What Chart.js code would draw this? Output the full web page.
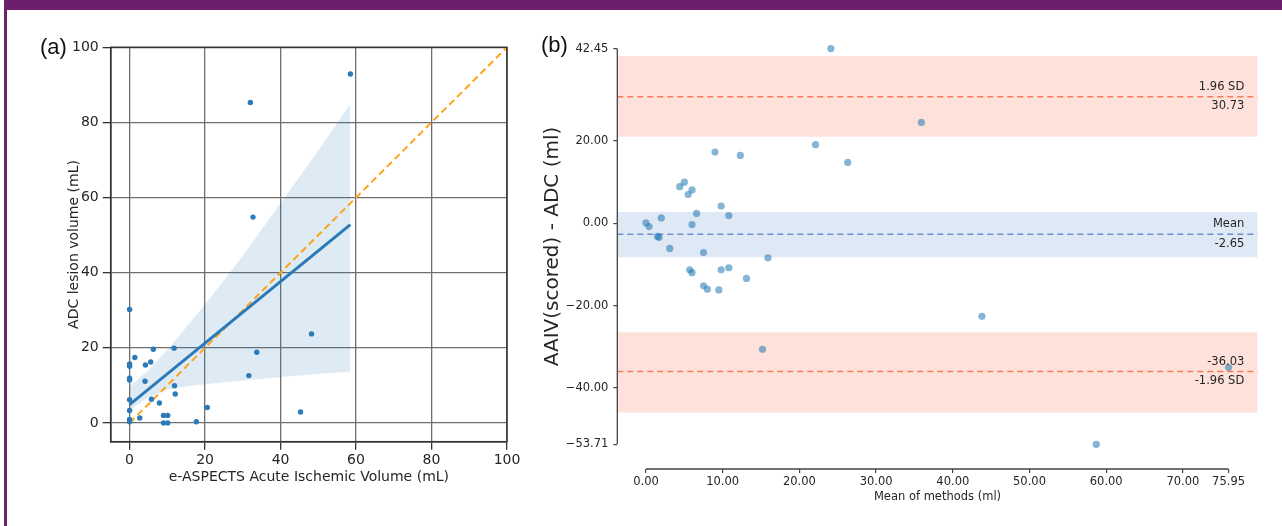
<!DOCTYPE html>
<html>
<head>
<meta charset="utf-8">
<script src="https://cdn.jsdelivr.net/npm/chart.js@4.4.1/dist/chart.umd.min.js"></script>
<style>
  body { margin: 0; background: #fff; width: 1282px; height: 526px; position: relative; overflow: hidden; }
  .frame-top { position: absolute; left: 4px; top: 0; width: 1278px; height: 10px; background: #6b1f6d; }
  .frame-left { position: absolute; left: 4px; top: 0; width: 3px; height: 526px; background: #6b1f6d; }
  canvas { position: absolute; top: 0; }
  #chartA { left: 0; }
  #chartB { left: 530px; }
  .panel-tag { position: absolute; font-family: "Liberation Sans", Arial, sans-serif; font-size: 22px; color: #111; }
</style>
</head>
<body>
<div class="frame-top"></div>
<div class="frame-left"></div>
<canvas id="chartA" width="530" height="526"></canvas>
<canvas id="chartB" width="752" height="526"></canvas>
<div class="panel-tag" style="left:40px; top:34px;">(a)</div>
<div class="panel-tag" style="left:541px; top:32px;">(b)</div>
<script>
"use strict";

// (a) ADC lesion volume vs e-ASPECTS volume
const volumeTicks = [0, 20, 40, 60, 80, 100];
const eAspectsVolume = [0, 0, 0, 0, 0, 0, 0, 0, 0, 1.4, 4.2, 5.6, 6.3, 11.8, 4.1, 11.9, 12.1, 5.8, 7.9, 2.7, 9.0, 10.1, 9.0, 10.1, 17.7, 20.6, 31.6, 33.7, 45.3, 48.2, 32.0, 32.7, 58.5];
const adcVolume = [30.2, 15.7, 15.1, 11.9, 11.4, 6.2, 3.3, 0.9, 0.3, 17.4, 15.4, 16.2, 19.6, 19.9, 11.1, 9.9, 7.7, 6.3, 5.3, 1.3, 2.0, 2.0, 0, 0, 0.3, 4.1, 12.6, 18.8, 2.9, 23.7, 85.3, 54.8, 92.9];
const fitX = [0, 58.5];
const fitY = [4.85, 52.8];
const ciX = [0, 5, 10, 15, 20, 25, 30, 40, 50, 58.5];
const ciUpper = [9.7, 14, 19.5, 25.5, 31.5, 38, 44.5, 58.5, 72.5, 85];
const ciLower = [3.5, 6.8, 8.8, 9.7, 10.3, 10.8, 11.3, 12.2, 13, 13.7];
const identityX = [0, 100];

// (b) Bland-Altman
const meanOfMethods = [0.0, 0.4, 1.5, 1.7, 2.0, 3.1, 4.4, 5.0, 5.5, 6.0, 6.0, 6.6, 5.7, 6.0, 7.5, 7.5, 8.0, 9.0, 9.5, 9.8, 9.8, 10.8, 10.8, 12.3, 13.1, 15.2, 15.9, 22.1, 24.1, 26.3, 35.9, 43.8, 58.7, 75.95];
const diffOfMethods = [0.1, -0.8, -3.2, -3.4, 1.3, -6.1, 8.9, 10.0, 7.0, 8.1, -0.3, 2.4, -11.3, -12.0, -7.1, -15.2, -16.0, 17.3, -16.2, 4.2, -11.3, 1.9, -10.8, 16.5, -13.4, -30.6, -8.4, 19.1, 42.45, 14.8, 24.5, -22.6, -53.71, -35.0];
const diffTicks = [42.45, 20, 0, -20, -40, -53.71];
const meanTicks = [0, 10, 20, 30, 40, 50, 60, 70, 75.95];
const limitValues = [30.73, -2.65, -36.03];
const limitAbove = ["1.96 SD", "Mean", "-36.03"];
const limitBelow = ["30.73", "-2.65", "-1.96 SD"];
const limitBandLow = [21.05, -8.26, -46.0];
const limitBandHigh = [40.65, 2.75, -26.5];
const limitLineColors = ["#f47c57", "#6f8fd0", "#f47c57"];
const limitBandColors = ["rgba(245,130,100,0.24)", "rgba(110,150,210,0.22)", "rgba(245,130,100,0.24)"];
const limitLabelX = 78;
const diffTitle = "AAIV(scored) - ADC (ml)";

const tickFont = "DejaVu Sans";
const textColor = "#262626";

function toPoints(xs, ys) {
  return xs.map((x, i) => ({ x: x, y: ys[i] }));
}

function fixedTicks(values) {
  return (scale) => {
    scale.ticks = values.map((v) => ({ value: v }));
  };
}

function minusLabel(v) {
  return v < 0 ? "\u2212" + Math.abs(v).toFixed(2) : v.toFixed(2);
}

const boxPlugin = {
  id: "box",
  afterDraw(chart) {
    const { ctx, chartArea } = chart;
    ctx.save();
    ctx.strokeStyle = "#333";
    ctx.lineWidth = 1.5;
    ctx.strokeRect(chartArea.left, chartArea.top, chartArea.right - chartArea.left, chartArea.bottom - chartArea.top);
    ctx.restore();
  },
};

function drawRegressionChart() {
  const ctx = document.getElementById("chartA");
  const axisCommon = {
    type: "linear",
    min: -5,
    max: 100,
    grid: { color: "#6f6f6f", lineWidth: 1.3, tickLength: 8, tickColor: "#333" },
    border: { color: "#333", width: 1.5 },
    ticks: { font: { family: tickFont, size: 14 }, color: textColor, maxRotation: 0, autoSkip: false },
  };
  new Chart(ctx, {
    type: "scatter",
    data: {
      datasets: [
        {
          data: toPoints(eAspectsVolume, adcVolume),
          backgroundColor: "#2b7bba",
          borderWidth: 0,
          pointRadius: 2.7,
        },
        {
          type: "line",
          data: toPoints(fitX, fitY),
          borderColor: "#2a7ab9",
          borderWidth: 3,
          pointRadius: 0,
        },
        {
          type: "line",
          data: toPoints(identityX, identityX),
          borderColor: "#ffa31a",
          borderWidth: 2,
          borderDash: [7, 4],
          pointRadius: 0,
        },
        {
          type: "line",
          data: toPoints(ciX, ciUpper),
          borderWidth: 0,
          pointRadius: 0,
          backgroundColor: "rgba(31,119,180,0.15)",
          fill: "+1",
        },
        {
          type: "line",
          data: toPoints(ciX, ciLower),
          borderWidth: 0,
          pointRadius: 0,
        },
      ],
    },
    options: {
      responsive: false,
      animation: false,
      layout: { padding: { left: 0, right: 23, top: 47.3, bottom: 36.2 } },
      plugins: { legend: { display: false }, tooltip: { enabled: false } },
      scales: {
        x: {
          ...axisCommon,
          afterBuildTicks: fixedTicks(volumeTicks),
          afterFit: (s) => { s.height = 48.1; },
          ticks: { ...axisCommon.ticks, padding: 2 },
          title: {
            display: true,
            text: "e-ASPECTS Acute Ischemic Volume (mL)",
            font: { family: tickFont, size: 14 },
            color: textColor,
            padding: { top: 0, bottom: 4 },
          },
        },
        y: {
          ...axisCommon,
          afterBuildTicks: fixedTicks(volumeTicks),
          afterFit: (s) => { s.width = 110.7; },
          ticks: { ...axisCommon.ticks, padding: 4 },
          title: {
            display: true,
            text: "ADC lesion volume (mL)",
            font: { family: tickFont, size: 14 },
            color: textColor,
            padding: { top: 66, bottom: 0 },
          },
        },
      },
    },
    plugins: [boxPlugin],
  });
}

function drawBlandAltmanChart() {
  const ctx = document.getElementById("chartB");
  const xMin = -3.74;
  const xMax = 79.75;

  const datasets = [
    {
      data: toPoints(meanOfMethods, diffOfMethods),
      backgroundColor: "rgba(31,119,180,0.55)",
      borderWidth: 0,
      pointRadius: 3.6,
    },
  ];
  limitValues.forEach((v, i) => {
    datasets.push({
      type: "line",
      data: toPoints([xMin, xMax], [v, v]),
      borderColor: limitLineColors[i],
      borderWidth: 1.5,
      borderDash: [6, 4],
      pointRadius: 0,
    });
  });
  limitValues.forEach((v, i) => {
    datasets.push({
      type: "line",
      data: toPoints([xMin, xMax], [limitBandHigh[i], limitBandHigh[i]]),
      borderWidth: 0,
      pointRadius: 0,
      backgroundColor: limitBandColors[i],
      fill: { value: limitBandLow[i] },
    });
  });

  // spines only span the first..last tick, like the seaborn despine look
  const spinePlugin = {
    id: "spines",
    afterDraw(chart) {
      const { ctx, chartArea, scales } = chart;
      const yTop = scales.y.getPixelForValue(diffTicks[0]);
      const yBottom = scales.y.getPixelForValue(diffTicks[diffTicks.length - 1]);
      ctx.save();
      ctx.strokeStyle = "#444";
      ctx.lineWidth = 1.3;
      ctx.beginPath();
      ctx.moveTo(chartArea.left, yTop);
      ctx.lineTo(chartArea.left, yBottom);
      ctx.moveTo(scales.x.getPixelForValue(meanTicks[0]), chartArea.bottom);
      ctx.lineTo(scales.x.getPixelForValue(meanTicks[meanTicks.length - 1]), chartArea.bottom);
      ctx.stroke();
      ctx.translate(chartArea.left - 65, (yTop + yBottom) / 2);
      ctx.rotate(-Math.PI / 2);
      ctx.font = "20px 'DejaVu Sans'";
      ctx.fillStyle = textColor;
      ctx.textAlign = "center";
      ctx.textBaseline = "middle";
      ctx.fillText(diffTitle, 0, 0);
      ctx.restore();
    },
  };

  const limitLabelPlugin = {
    id: "limitLabels",
    afterDatasetsDraw(chart) {
      const { ctx, scales } = chart;
      const x = scales.x.getPixelForValue(limitLabelX);
      ctx.save();
      ctx.font = "11.5px 'DejaVu Sans'";
      ctx.fillStyle = textColor;
      ctx.textAlign = "right";
      ctx.textBaseline = "middle";
      limitValues.forEach((v, i) => {
        const y = scales.y.getPixelForValue(v);
        ctx.fillText(limitAbove[i], x, y - 10);
        ctx.fillText(limitBelow[i], x, y + 9.5);
      });
      ctx.restore();
    },
  };

  new Chart(ctx, {
    type: "scatter",
    data: { datasets: datasets },
    options: {
      responsive: false,
      animation: false,
      layout: { padding: { left: 0, right: 24.3, top: 42, bottom: 18.1 } },
      plugins: { legend: { display: false }, tooltip: { enabled: false } },
      scales: {
        x: {
          type: "linear",
          min: xMin,
          max: xMax,
          afterBuildTicks: fixedTicks(meanTicks),
          afterFit: (s) => { s.height = 38.9; },
          grid: { drawOnChartArea: false, tickLength: 4, color: "#444", lineWidth: 1.2 },
          border: { display: false },
          ticks: {
            font: { family: tickFont, size: 11.5 },
            color: textColor,
            padding: 2,
            maxRotation: 0,
            autoSkip: false,
            callback: (v) => v.toFixed(2),
          },
          title: {
            display: true,
            text: "Mean of methods (ml)",
            font: { family: tickFont, size: 11.5 },
            color: textColor,
            padding: { top: 0, bottom: 4 },
          },
        },
        y: {
          type: "linear",
          min: -59.7,
          max: 44.05,
          afterBuildTicks: fixedTicks(diffTicks),
          afterFit: (s) => { s.width = 87.3; },
          grid: { drawOnChartArea: false, tickLength: 4, color: "#444", lineWidth: 1.2 },
          border: { display: false },
          ticks: {
            font: { family: tickFont, size: 11.5 },
            color: textColor,
            padding: 5,
            autoSkip: false,
            callback: (v) => minusLabel(v),
          },
        },
      },
    },
    plugins: [spinePlugin, limitLabelPlugin],
  });
}

drawRegressionChart();
drawBlandAltmanChart();
</script>
</body>
</html>
